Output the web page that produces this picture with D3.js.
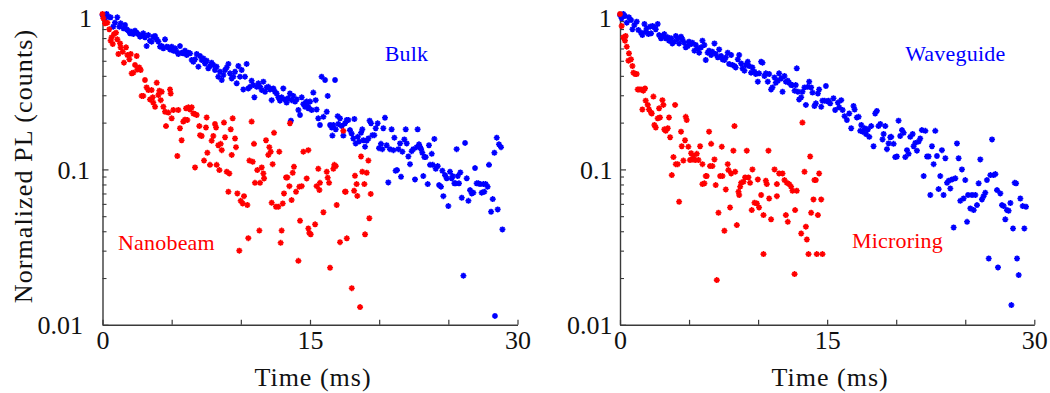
<!DOCTYPE html>
<html>
<head>
<meta charset="utf-8">
<script src="https://cdn.jsdelivr.net/npm/d3@7"></script>
<style>
  html, body { margin: 0; padding: 0; background: #fff; }
  svg { display: block; }
  text { font-family: "Liberation Serif", "Times New Roman", serif; }
</style>
</head>
<body>
<svg id="chart" width="1050" height="393"></svg>
<script>
// Photoluminescence decay traces, [time (ms), normalized PL]
const bulk = [
  [0.0,0.985],[0.11,0.971],[0.30,1.0],[0.42,0.961],[0.59,0.952],[0.18,0.938],[0.90,0.880],[1.07,0.952],[0.78,0.829],[1.22,0.829],
  [1.31,0.871],[1.51,0.809],[1.63,0.850],[1.75,0.797],[1.87,0.781],[1.99,0.751],[2.11,0.770],[2.23,0.743],[2.35,0.781],[2.47,0.758],
  [2.59,0.743],[2.71,0.715],[2.83,0.722],[2.95,0.751],[3.07,0.708],[3.19,0.622],[3.31,0.732],[3.43,0.674],[3.55,0.664],[3.67,0.715],
  [3.80,0.722],[3.92,0.687],[4.04,0.664],[4.16,0.616],[4.28,0.622],[4.40,0.601],[4.52,0.687],[4.64,0.616],[4.76,0.610],[4.88,0.592],
  [5.00,0.616],[5.12,0.581],[5.24,0.601],[5.36,0.572],[5.48,0.553],[5.60,0.622],[5.72,0.564],[5.84,0.558],[5.96,0.581],[6.09,0.545],
  [6.21,0.564],[6.33,0.558],[6.45,0.506],[6.57,0.493],[6.69,0.511],[6.81,0.553],[6.93,0.458],[7.05,0.537],[7.17,0.506],[7.29,0.518],
  [7.41,0.481],[7.53,0.501],[7.65,0.447],[7.77,0.463],[7.89,0.486],[8.01,0.470],[8.13,0.436],[8.25,0.458],[8.37,0.395],[8.49,0.425],
  [8.62,0.376],[8.74,0.405],[8.86,0.436],[8.98,0.453],[9.10,0.477],[9.22,0.415],[9.34,0.385],[9.46,0.395],[9.58,0.425],[9.70,0.358],
  [9.82,0.463],[9.94,0.395],[10.06,0.436],[10.18,0.327],[10.30,0.395],[10.42,0.477],[10.54,0.332],[10.66,0.340],[10.78,0.372],[10.90,0.349],
  [10.98,0.291],[11.15,0.340],[11.27,0.358],[11.39,0.340],[11.51,0.324],[11.63,0.367],[11.75,0.316],[11.87,0.337],[11.99,0.340],[12.11,0.327],
  [12.23,0.279],[12.35,0.332],[12.47,0.316],[12.59,0.308],[12.71,0.291],[12.83,0.277],[12.95,0.291],[13.07,0.332],[13.19,0.282],[13.31,0.269],
  [13.43,0.287],[13.55,0.308],[13.67,0.279],[13.80,0.297],[13.92,0.273],[14.04,0.282],[14.16,0.241],[14.28,0.224],[14.40,0.291],[14.52,0.263],
  [14.64,0.253],[14.76,0.273],[14.88,0.247],[13.62,0.206],
  [14.69,0.269],[14.88,0.253],[15.00,0.273],[15.12,0.241],[15.24,0.312],[15.41,0.279],[15.48,0.243],[15.60,0.213],[15.72,0.193],[15.84,0.395],
  [15.97,0.218],[16.09,0.376],[16.21,0.235],[16.28,0.297],[16.45,0.193],[16.57,0.186],[16.62,0.165],[16.69,0.193],[16.81,0.376],[16.86,0.181],
  [17.00,0.220],[17.05,0.196],[17.17,0.213],[17.29,0.190],[17.41,0.165],[17.53,0.198],[17.65,0.208],[17.77,0.208],[17.89,0.179],[18.01,0.170],
  [18.13,0.158],[18.21,0.211],[18.30,0.147],[18.45,0.162],[18.54,0.151],[18.69,0.172],[18.78,0.181],[18.86,0.154],[18.98,0.140],[19.10,0.153],
  [19.22,0.158],[19.31,0.206],[19.41,0.198],[19.51,0.166],[19.65,0.166],[19.75,0.184],[19.89,0.198],[19.99,0.137],[20.13,0.146],[20.23,0.135],
  [20.30,0.184],[20.42,0.215],[20.54,0.143],[20.66,0.0825],[20.78,0.135],[20.90,0.181],[21.03,0.133],[21.10,0.160],[21.19,0.098],[21.29,0.099],
  [21.39,0.135],[21.51,0.147],[21.58,0.0897],[21.68,0.130],[21.82,0.156],[21.92,0.181],[21.99,0.147],[22.11,0.121],[22.23,0.108],[22.35,0.131],
  [22.47,0.135],[22.59,0.0862],[22.71,0.139],[22.78,0.181],[22.88,0.145],[22.95,0.140],[23.03,0.135],[23.12,0.128],[23.19,0.0906],[23.27,0.120],
  [23.36,0.120],[23.51,0.0804],[23.60,0.143],[23.68,0.107],[23.80,0.126],[23.87,0.107],[23.99,0.157],[24.09,0.101],[24.23,0.105],[24.33,0.0793],
  [24.47,0.0774],[24.57,0.098],[24.64,0.0673],[24.76,0.0919],[24.88,0.0876],[25.00,0.0581],[25.12,0.0966],[25.24,0.0876],[25.31,0.0906],[25.44,0.0813],
  [25.53,0.0813],[25.60,0.135],[25.68,0.0906],[25.77,0.0813],[25.87,0.0956],[25.97,0.0657],[26.09,0.0207],[26.21,0.148],[26.33,0.0876],[26.45,0.0628],
  [26.57,0.0736],[26.69,0.0701],[26.81,0.0708],[26.93,0.102],[27.05,0.0813],[27.17,0.0813],[27.29,0.0804],[27.41,0.0708],[27.53,0.0804],[27.60,0.0718],
  [27.70,0.0804],[27.84,0.0774],[27.94,0.107],[28.09,0.0534],[28.21,0.0644],[28.33,0.128],[28.37,0.0114],[28.50,0.160],[28.57,0.0553],[28.66,0.145],
  [28.81,0.139],[28.91,0.0411]
];

const nanobeam = [
  [0.0,1.0],[0.06,0.938],[0.18,0.871],[0.35,0.880],[0.49,0.797],[0.59,0.674],[0.74,0.641],[0.66,0.708],[0.83,0.743],[0.98,0.758],
  [1.07,0.687],[1.15,0.553],[1.27,0.647],[1.31,0.610],[1.46,0.572],[1.55,0.486],[1.70,0.610],[1.80,0.545],[1.94,0.511],[2.04,0.553],
  [2.11,0.415],[2.23,0.419],[2.35,0.470],[2.47,0.537],[2.52,0.440],[2.66,0.453],[2.76,0.436],[2.83,0.297],[2.95,0.297],[3.07,0.376],
  [3.19,0.337],[3.31,0.324],[3.43,0.282],[3.55,0.324],[3.63,0.291],[3.67,0.269],[3.80,0.253],[3.92,0.361],[4.04,0.301],[4.11,0.321],
  [4.21,0.279],[4.28,0.316],[4.40,0.253],[4.52,0.235],[4.59,0.190],[4.76,0.232],[4.88,0.327],[4.93,0.308],[5.00,0.213],[5.12,0.241],
  [5.41,0.122],[5.48,0.241],[5.60,0.184],[5.72,0.154],[5.84,0.203],[5.96,0.209],[6.04,0.247],[6.13,0.208],[6.21,0.251],[6.33,0.243],
  [6.45,0.251],[6.57,0.229],[6.69,0.227],[6.81,0.224],[6.69,0.103],[7.00,0.190],[7.05,0.166],[7.17,0.164],[7.34,0.114],[7.48,0.186],
  [7.53,0.216],[7.58,0.128],[7.77,0.107],[7.89,0.153],[8.01,0.164],[8.13,0.196],[8.21,0.186],[8.25,0.107],[8.37,0.143],[8.45,0.099],
  [8.54,0.146],[8.62,0.133],[8.78,0.200],[8.86,0.161],[8.98,0.0966],[9.10,0.0718],[9.17,0.0942],[9.27,0.181],[9.34,0.124],[9.41,0.213],
  [9.58,0.158],[9.65,0.139],[9.75,0.0701],[9.89,0.0300],[9.99,0.0628],[10.13,0.0604],[10.23,0.0673],[10.47,0.0590],[10.54,0.0361],[10.62,0.114],
  [10.78,0.203],[10.86,0.112],[10.95,0.146],[11.02,0.082],[11.19,0.099],[11.34,0.0404],[11.39,0.082],[11.51,0.103],[11.63,0.0942],[11.68,0.0875],
  [11.82,0.154],[11.99,0.124],[12.06,0.139],[12.16,0.130],[12.23,0.061],[12.30,0.108],[12.40,0.172],[12.54,0.0575],[12.71,0.0575],[12.78,0.130],
  [12.88,0.0337],[12.95,0.0404],[13.03,0.0604],[13.12,0.0701],[13.27,0.0888],[13.36,0.0888],[13.51,0.078],[13.67,0.0635],[13.75,0.0952],[13.84,0.104],
  [13.99,0.0718],[14.16,0.0258],[14.23,0.0774],[14.28,0.0467],[14.40,0.078],[14.52,0.130],[14.88,0.0417],[14.95,0.039],[13.55,0.198],
  [14.88,0.133],[14.76,0.0875],[15.60,0.101],[15.48,0.078],[15.72,0.082],[16.21,0.0966],[16.28,0.0884],[16.38,0.082],[16.69,0.101],[16.76,0.107],
  [16.86,0.105],[17.41,0.177],[17.58,0.0718],[18.25,0.091],[18.37,0.0804],[18.69,0.121],[18.78,0.0966],[18.93,0.0804],[19.10,0.0952],[19.22,0.114],
  [15.05,0.0382],[15.37,0.0443],[15.68,0.0737],[15.97,0.0530],[16.45,0.0233],[16.93,0.0590],[17.17,0.0340],[17.53,0.0719],[17.66,0.0360],[18.02,0.0172],
  [18.19,0.0729],[18.42,0.0675],[18.62,0.0130],[18.98,0.0382],[19.29,0.0485],[19.39,0.0695]
];

const waveguide = [
  [0.00,0.985],[0.12,0.938],[0.24,1.0],[0.36,0.971],[0.49,0.880],[0.65,0.952],[0.80,0.915],[0.90,0.797],[1.04,0.850],[1.21,0.893],
  [1.33,0.789],[1.52,0.758],[1.62,0.732],[1.77,0.862],[1.86,0.770],[1.93,0.809],[2.06,0.743],[2.18,0.829],[2.25,0.751],[2.35,0.837],
  [2.49,0.821],[2.59,0.797],[2.73,0.862],[2.83,0.732],[2.97,0.697],[3.07,0.722],[3.21,0.743],[3.31,0.697],[3.46,0.708],[3.55,0.674],
  [3.70,0.697],[3.79,0.647],[3.94,0.664],[4.04,0.722],[4.18,0.697],[4.28,0.647],[4.42,0.715],[4.52,0.687],[4.66,0.654],[4.76,0.610],
  [4.91,0.622],[5.00,0.664],[5.15,0.641],[5.24,0.654],[5.39,0.581],[5.49,0.632],[5.63,0.601],[5.73,0.564],[5.87,0.610],[5.97,0.674],
  [6.11,0.632],[6.21,0.506],[6.35,0.564],[6.45,0.581],[6.60,0.545],[6.69,0.572],[6.84,0.647],[6.93,0.553],[7.08,0.526],[7.18,0.592],
  [7.32,0.537],[7.42,0.511],[7.56,0.506],[7.66,0.526],[7.80,0.564],[7.90,0.477],[8.05,0.545],[8.14,0.470],[8.29,0.463],[8.38,0.453],
  [8.53,0.511],[8.63,0.545],[8.77,0.481],[8.87,0.447],[9.01,0.432],[9.11,0.470],[9.25,0.493],[9.35,0.463],[9.49,0.419],[9.59,0.453],
  [9.74,0.425],[9.83,0.411],[9.98,0.367],[10.07,0.415],[10.22,0.493],[10.32,0.486],[10.46,0.399],[10.56,0.415],[10.70,0.367],[10.80,0.411],
  [10.94,0.327],[11.04,0.337],[11.19,0.391],[11.28,0.361],[11.43,0.372],[11.52,0.415],[11.67,0.385],[11.77,0.316],[11.91,0.399],[12.01,0.367],
  [12.15,0.372],[12.25,0.361],[12.39,0.349],[12.49,0.349],[12.64,0.321],[12.73,0.349],[12.80,0.447],[12.88,0.316],[12.97,0.282],[13.12,0.291],
  [13.21,0.316],[13.36,0.337],[13.46,0.260],[13.60,0.340],[13.70,0.367],[13.84,0.337],[13.94,0.312],[14.08,0.256],[14.18,0.266],[14.33,0.308],
  [14.42,0.327],[14.57,0.253],[14.66,0.277],[14.81,0.277],[14.91,0.344],[15.05,0.273],
  [15.10,0.277],[15.22,0.266],[15.46,0.287],[15.58,0.241],[15.78,0.269],[15.87,0.251],[16.02,0.279],[16.12,0.241],[16.26,0.220],[16.43,0.208],
  [16.60,0.229],[16.74,0.184],[16.91,0.256],[16.99,0.243],[17.15,0.216],[17.28,0.218],[17.40,0.177],[17.47,0.193],[17.57,0.175],[17.71,0.184],
  [17.81,0.169],[17.95,0.181],[18.05,0.162],[18.19,0.190],[18.36,0.141],[18.48,0.229],[18.60,0.238],[18.72,0.190],[18.85,0.196],[19.01,0.156],
  [19.09,0.169],[19.21,0.190],[19.33,0.135],[19.45,0.147],[19.57,0.161],[19.64,0.162],[19.81,0.146],[19.93,0.120],[20.05,0.121],[20.17,0.206],
  [20.29,0.164],[20.42,0.179],[20.54,0.172],[20.66,0.120],[20.78,0.133],[20.90,0.126],[21.02,0.162],[21.19,0.169],[21.26,0.141],[21.38,0.148],
  [21.50,0.132],[21.62,0.151],[21.74,0.158],[21.86,0.179],[21.99,0.0906],[22.11,0.177],[22.23,0.121],[22.35,0.121],[22.47,0.0684],[22.59,0.141],
  [22.71,0.108],[22.83,0.177],[22.95,0.122],[23.07,0.0747],[23.19,0.0906],[23.31,0.133],[23.43,0.0684],[23.56,0.118],[23.68,0.082],[23.80,0.0845],
  [23.92,0.0754],[24.04,0.0862],[24.16,0.0423],[24.28,0.0876],[24.40,0.147],[24.52,0.118],[24.64,0.0628],[24.76,0.100],[24.88,0.0650],[25.00,0.0854],
  [25.13,0.046],[25.20,0.0684],[25.37,0.0561],[25.49,0.0684],[25.61,0.0547],[25.73,0.0684],[25.85,0.0589],[25.97,0.0813],[26.09,0.116],[26.21,0.0641],
  [26.33,0.0673],[26.45,0.0708],[26.57,0.0854],[26.70,0.0267],[26.82,0.0919],[26.94,0.156],[27.06,0.0919],[27.18,0.0933],[27.30,0.0736],[27.37,0.0234],
  [27.54,0.0701],[27.66,0.0589],[27.78,0.0581],[27.90,0.0477],[28.02,0.0547],[28.14,0.0542],[28.27,0.0608],[28.34,0.0134],[28.46,0.0417],[28.58,0.082],
  [28.68,0.0813],[28.75,0.0267],[28.87,0.0209],[28.99,0.0650],[29.16,0.0581],[29.28,0.0417],[29.40,0.0575]
];

const microring = [
  [0.0,1.0],[0.12,0.837],[0.24,0.708],[0.36,0.674],[0.41,0.722],[0.49,0.616],[0.65,0.558],[0.61,0.501],[0.80,0.511],[0.90,0.463],
  [0.97,0.419],[1.09,0.411],[1.21,0.411],[1.28,0.327],[1.38,0.327],[1.52,0.327],[1.62,0.243],[1.69,0.321],[1.81,0.332],[1.86,0.277],
  [2.01,0.260],[2.10,0.243],[2.25,0.232],[2.30,0.229],[2.42,0.294],[2.49,0.193],[2.59,0.186],[2.73,0.213],[2.83,0.247],[2.90,0.216],
  [3.07,0.279],[3.14,0.260],[3.21,0.181],[3.31,0.177],[3.46,0.184],[3.55,0.216],[3.63,0.161],[3.75,0.0919],[3.87,0.120],[3.99,0.260],
  [4.04,0.108],[4.18,0.108],[4.28,0.0619],[4.42,0.175],[4.47,0.141],[4.59,0.114],[4.71,0.154],[4.76,0.218],[4.83,0.208],[4.95,0.140],
  [5.07,0.115],[5.15,0.127],[5.24,0.116],[5.32,0.122],[5.44,0.115],[5.56,0.126],[5.68,0.115],[5.80,0.141],[5.97,0.108],[5.97,0.0804],
  [6.11,0.0813],[6.21,0.0906],[6.28,0.0906],[6.45,0.175],[6.52,0.105],[6.60,0.146],[6.69,0.105],[6.84,0.116],[6.93,0.0793],[7.01,0.0194],
  [7.13,0.0526],[7.25,0.0906],[7.37,0.140],[7.42,0.0906],[7.56,0.0403],[7.66,0.0743],[7.80,0.108],[7.85,0.099],[7.97,0.0569],[8.05,0.0942],
  [8.21,0.132],[8.29,0.190],[8.34,0.0966],[8.46,0.0438],[8.58,0.0718],[8.63,0.0684],[8.70,0.0774],[8.77,0.082],[8.94,0.0833],[9.06,0.0888],
  [9.18,0.132],[9.30,0.0888],[9.42,0.082],[9.54,0.0547],[9.59,0.100],[9.74,0.061],[9.91,0.0604],[9.98,0.0862],[10.07,0.0569],[10.22,0.0684],
  [10.39,0.0285],[10.39,0.0508],[10.56,0.0845],[10.63,0.0804],[10.75,0.132],[10.80,0.065],[10.94,0.0477],[11.19,0.100],[11.36,0.0804],[11.36,0.0673],
  [11.52,0.0942],[11.77,0.0942],[11.91,0.0854],[12.01,0.0508],[12.08,0.082],[12.15,0.046],[12.25,0.0804],[12.39,0.0774],[12.49,0.0729],[12.64,0.0212],
  [12.68,0.0547],[12.80,0.0729],[13.12,0.0387],[13.21,0.200],[13.36,0.0966],[13.46,0.0428],[13.53,0.0354],[13.65,0.0285],[13.77,0.121],[13.84,0.0526],
  [14.01,0.0641],[14.08,0.0854],[14.18,0.0854],[14.25,0.0285],[14.33,0.0508],[14.42,0.0942],[14.57,0.0641],[14.66,0.0285]
];

// Axis ticks and labels
const xTicks = [0, 5, 10, 15, 20, 25, 30];
const xLabeled = [0, 15, 30];
const yMajor = [1, 0.1, 0.01];
const yMinor = [0.9,0.8,0.7,0.6,0.5,0.4,0.3,0.2,0.09,0.08,0.07,0.06,0.05,0.04,0.03,0.02];
const yTickText = {1: "1", 0.1: "0.1", 0.01: "0.01"};
const xTitle = "Time (ms)";
const yTitle = "Normalized PL (counts)";

const BLUE = "#0000ff", RED = "#ff0000", AXIS = "#3a3a3a";

const panels = [
  { left: 102.5, right: 517.5, series: [ {data: bulk, color: BLUE}, {data: nanobeam, color: RED} ],
    labelGap: {1: 10.5, 0.1: 12.5, 0.01: 19.5},
    notes: [ {text: "Bulk", x: 20.4, y: 0.495, color: BLUE}, {text: "Nanobeam", x: 1.12, y: 0.0303, color: RED} ] },
  { left: 620, right: 1034.3, series: [ {data: waveguide, color: BLUE}, {data: microring, color: RED} ],
    labelGap: {1: 8.3, 0.1: 7.5, 0.01: 7.5},
    notes: [ {text: "Waveguide", x: 20.65, y: 0.495, color: BLUE}, {text: "Microring", x: 16.8, y: 0.031, color: RED} ] }
];

const plotTop = 14, plotBottom = 324.8;
const svg = d3.select("#chart");

// eight-armed star marker
const marker = "M-3,0H3M0,-3V3M-2.1,-2.1L2.1,2.1M-2.1,2.1L2.1,-2.1";

panels.forEach(p => {
  const x = d3.scaleLinear().domain([0, 30]).range([p.left, p.right]);
  const y = d3.scaleLog().domain([0.01, 1]).range([plotBottom, plotTop]);

  // minor log ticks
  svg.append("g")
    .attr("transform", `translate(${p.left},0)`)
    .call(d3.axisLeft(y).tickValues(yMinor).tickSize(-4).tickFormat(""))
    .call(g => g.select(".domain").remove())
    .call(g => g.selectAll("line").attr("stroke", AXIS).attr("stroke-width", 1.1));

  // major ticks with labels
  svg.append("g")
    .attr("transform", `translate(${p.left},0)`)
    .call(d3.axisLeft(y).tickValues(yMajor).tickSize(-6).tickSizeOuter(0)
      .tickFormat(d => yTickText[d]))
    .call(g => g.select(".domain").attr("stroke", AXIS).attr("stroke-width", 1.4))
    .call(g => g.selectAll("line").attr("stroke", AXIS).attr("stroke-width", 1.2))
    .call(g => g.selectAll("text").attr("fill", "#111").attr("font-size", 26)
      .attr("font-family", "Liberation Serif")
      .attr("x", d => -p.labelGap[d])
      .attr("dy", d => d === 1 ? "0.48em" : "0.34em"));

  svg.append("g")
    .attr("transform", `translate(0,${plotBottom})`)
    .call(d3.axisBottom(x).tickValues(xTicks).tickSize(-5).tickSizeOuter(0)
      .tickFormat(d => xLabeled.includes(d) ? d : ""))
    .call(g => g.select(".domain").attr("stroke", AXIS).attr("stroke-width", 1.4))
    .call(g => g.selectAll("line").attr("stroke", AXIS).attr("stroke-width", 1.2))
    .call(g => g.selectAll("text").attr("fill", "#111").attr("font-size", 26)
      .attr("font-family", "Liberation Serif").attr("y", 24.5).attr("dy", 0));

  // data
  p.series.forEach(s => {
    svg.append("g").selectAll("path")
      .data(s.data)
      .join("path")
      .attr("transform", d => `translate(${x(d[0])},${y(d[1])})`)
      .attr("d", marker)
      .attr("stroke", s.color)
      .attr("stroke-width", 1.6)
      .attr("fill", "none");
  });

  // series names
  p.notes.forEach(n => {
    svg.append("text")
      .attr("x", x(n.x)).attr("y", y(n.y))
      .attr("fill", n.color)
      .attr("font-size", 22)
      .attr("letter-spacing", 0.2)
      .text(n.text);
  });

  svg.append("text")
    .attr("x", (p.left + p.right) / 2 + 3).attr("y", 386)
    .attr("text-anchor", "middle")
    .attr("font-size", 26).attr("letter-spacing", 1)
    .attr("fill", "#111")
    .text(xTitle);
});

svg.append("text")
  .attr("transform", `translate(32,166) rotate(-90)`)
  .attr("text-anchor", "middle")
  .attr("font-size", 26).attr("letter-spacing", 1.1)
  .attr("fill", "#111")
  .text(yTitle);
</script>
</body>
</html>
